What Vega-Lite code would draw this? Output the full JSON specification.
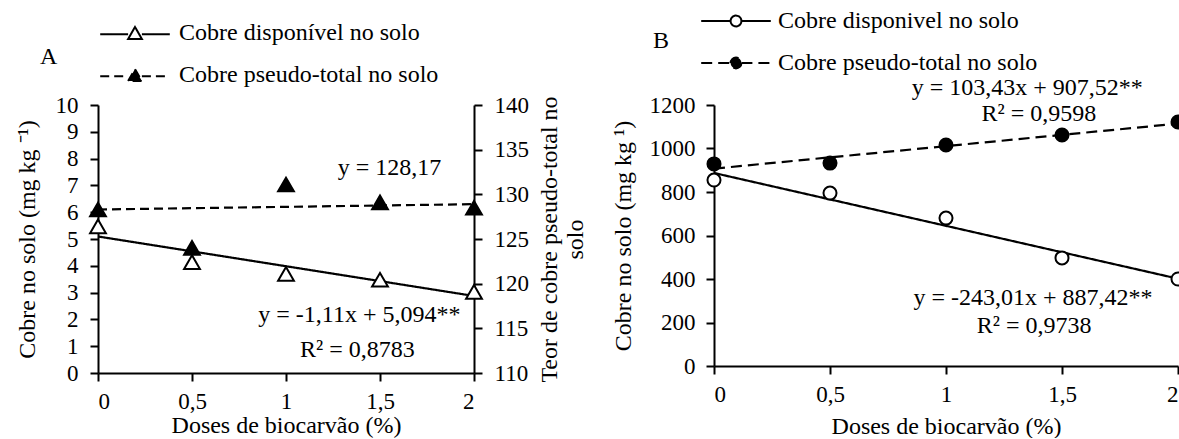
{
  "$schema": "https://vega.github.io/schema/vega-lite/v6.json",
  "padding": {"left": 14, "top": 9, "right": 0, "bottom": 0},
  "background": "white",
  "datasets": {
    "a_obs": [
      {"dose": 0, "serie": "Cobre disponível no solo", "cobre": 5.47},
      {"dose": 0.5, "serie": "Cobre disponível no solo", "cobre": 4.14},
      {"dose": 1, "serie": "Cobre disponível no solo", "cobre": 3.7},
      {"dose": 1.5, "serie": "Cobre disponível no solo", "cobre": 3.48},
      {"dose": 2, "serie": "Cobre disponível no solo", "cobre": 3.03},
      {"dose": 0, "serie": "Cobre pseudo-total no solo", "cobre": 128.3},
      {"dose": 0.5, "serie": "Cobre pseudo-total no solo", "cobre": 124.0},
      {"dose": 1, "serie": "Cobre pseudo-total no solo", "cobre": 131.1},
      {"dose": 1.5, "serie": "Cobre pseudo-total no solo", "cobre": 129.1},
      {"dose": 2, "serie": "Cobre pseudo-total no solo", "cobre": 128.5}
    ],
    "a_fit": [
      {"dose": 0, "serie": "Cobre disponível no solo", "cobre": 5.094},
      {"dose": 2, "serie": "Cobre disponível no solo", "cobre": 2.874},
      {"dose": 0, "serie": "Cobre pseudo-total no solo", "cobre": 128.3},
      {"dose": 2, "serie": "Cobre pseudo-total no solo", "cobre": 128.9}
    ],
    "a_txt": [
      {"dose": 1.55, "cobre": 7.65, "rotulo": "y = 128,17"},
      {"dose": 1.39, "cobre": 2.16, "rotulo": "y = -1,11x + 5,094**"},
      {"dose": 1.38, "cobre": 0.86, "rotulo": "R² = 0,8783"}
    ],
    "b_obs": [
      {"dose": 0, "serie": "Cobre disponivel no solo", "cobre": 855},
      {"dose": 0.5, "serie": "Cobre disponivel no solo", "cobre": 795},
      {"dose": 1, "serie": "Cobre disponivel no solo", "cobre": 680},
      {"dose": 1.5, "serie": "Cobre disponivel no solo", "cobre": 497},
      {"dose": 2, "serie": "Cobre disponivel no solo", "cobre": 400},
      {"dose": 0, "serie": "Cobre pseudo-total no solo", "cobre": 929},
      {"dose": 0.5, "serie": "Cobre pseudo-total no solo", "cobre": 933},
      {"dose": 1, "serie": "Cobre pseudo-total no solo", "cobre": 1016},
      {"dose": 1.5, "serie": "Cobre pseudo-total no solo", "cobre": 1062},
      {"dose": 2, "serie": "Cobre pseudo-total no solo", "cobre": 1122}
    ],
    "b_fit": [
      {"dose": 0, "serie": "Cobre disponivel no solo", "cobre": 887.42},
      {"dose": 2, "serie": "Cobre disponivel no solo", "cobre": 401.4},
      {"dose": 0, "serie": "Cobre pseudo-total no solo", "cobre": 907.52},
      {"dose": 2, "serie": "Cobre pseudo-total no solo", "cobre": 1114.38}
    ],
    "b_txt": [
      {"dose": 1.35, "cobre": 1278, "rotulo": "y = 103,43x + 907,52**"},
      {"dose": 1.4, "cobre": 1159, "rotulo": "R² = 0,9598"},
      {"dose": 1.375, "cobre": 313, "rotulo": "y = -243,01x + 887,42**"},
      {"dose": 1.38, "cobre": 184, "rotulo": "R² = 0,9738"}
    ]
  },
  "spacing": 240,
  "bounds": "flush",
  "resolve": {
    "scale": {"fill": "independent", "strokeDash": "independent", "x": "independent", "y": "independent"},
    "legend": {"fill": "independent", "strokeDash": "independent"}
  },
  "hconcat": [
    {
      "width": 376,
      "height": 268,
      "title": {"text": "A", "anchor": "start", "frame": "group", "fontSize": 24, "fontWeight": "normal", "font": "Liberation Serif", "color": "black", "dx": -58, "offset": -48},
      "resolve": {"scale": {"y": "independent"}},
      "layer": [
        {
          "encoding": {
            "x": {"field": "dose", "type": "quantitative", "scale": {"domain": [0, 2], "nice": false},
              "axis": {"values": [0, 0.5, 1, 1.5, 2], "labelExpr": "replace(toString(datum.value), '.', ',')", "title": "Doses de biocarvão (%)", "labelPadding": 9, "titlePadding": 0}},
            "y": {"field": "cobre", "type": "quantitative", "scale": {"domain": [0, 10], "nice": false},
              "axis": {"orient": "left", "values": [0,1,2,3,4,5,6,7,8,9,10], "title": "Cobre no solo (mg kg ⁻¹)", "labelPadding": 12, "titlePadding": 16}}
          },
          "layer": [
            {
              "data": {"name": "a_fit"},
              "transform": [{"filter": "datum.serie === 'Cobre disponível no solo'"}],
              "mark": {"type": "line", "color": "black", "strokeWidth": 2.2},
              "encoding": {
                "strokeDash": {"field": "serie", "type": "nominal",
                  "scale": {"domain": ["Cobre disponível no solo", "Cobre pseudo-total no solo"], "range": [[1, 0], [9, 5]]},
                  "legend": {"orient": "none", "legendX": 25, "legendY": -84, "title": null, "symbolType": "M-5.8,0.2L-1.15,0.2M1.15,0.2L5.8,0.2M-1.15,1L0,-1L1.15,1Z", "symbolSize": 144, "symbolStrokeWidth": 2, "symbolStrokeColor": "black", "labelOffset": 32, "labelFontSize": 24, "labelFont": "Liberation Serif", "labelColor": "black", "labelLimit": 500, "rowPadding": 18}}
              }
            },
            {
              "data": {"name": "a_obs"},
              "transform": [{"filter": "datum.serie === 'Cobre disponível no solo'"}],
              "mark": {"type": "point", "shape": "triangle-up", "size": 250, "filled": true, "stroke": "black", "strokeWidth": 2, "opacity": 1},
              "encoding": {
                "fill": {"field": "serie", "type": "nominal",
                  "scale": {"domain": ["Cobre disponível no solo", "Cobre pseudo-total no solo"], "range": ["white", "black"]},
                  "legend": {"orient": "none", "legendX": 25, "legendY": -84, "title": null, "symbolType": "M-5.8,0.2L-1.15,0.2M1.15,0.2L5.8,0.2M-1.15,1L0,-1L1.15,1Z", "symbolSize": 144, "symbolStrokeWidth": 2, "symbolStrokeColor": "black", "labelOffset": 32, "labelFontSize": 24, "labelFont": "Liberation Serif", "labelColor": "black", "labelLimit": 500, "rowPadding": 18}}
              }
            },
            {
              "data": {"name": "a_txt"},
              "mark": {"type": "text", "font": "Liberation Serif", "fontSize": 24, "color": "black", "align": "center", "baseline": "middle"},
              "encoding": {"text": {"field": "rotulo"}}
            }
          ]
        },
        {
          "encoding": {
            "x": {"field": "dose", "type": "quantitative", "scale": {"domain": [0, 2], "nice": false},
              "axis": {"values": [0, 0.5, 1, 1.5, 2], "labelExpr": "replace(toString(datum.value), '.', ',')", "title": "Doses de biocarvão (%)", "labelPadding": 9, "titlePadding": 0}},
            "y": {"field": "cobre", "type": "quantitative", "scale": {"domain": [110, 140], "nice": false, "zero": false},
              "axis": {"orient": "right", "values": [110,115,120,125,130,135,140], "title": ["Teor de cobre pseudo-total no", "solo"], "titleAngle": -90, "titleAlign": "center", "titleBaseline": "top", "labelPadding": 12, "titlePadding": -17}}
          },
          "layer": [
            {
              "data": {"name": "a_fit"},
              "transform": [{"filter": "datum.serie === 'Cobre pseudo-total no solo'"}],
              "mark": {"type": "line", "color": "black", "strokeWidth": 2.2},
              "encoding": {
                "strokeDash": {"field": "serie", "type": "nominal",
                  "scale": {"domain": ["Cobre disponível no solo", "Cobre pseudo-total no solo"], "range": [[1, 0], [9, 5]]},
                  "legend": {"orient": "none", "legendX": 25, "legendY": -84, "title": null, "symbolType": "M-5.8,0.2L-1.15,0.2M1.15,0.2L5.8,0.2M-1.15,1L0,-1L1.15,1Z", "symbolSize": 144, "symbolStrokeWidth": 2, "symbolStrokeColor": "black", "labelOffset": 32, "labelFontSize": 24, "labelFont": "Liberation Serif", "labelColor": "black", "labelLimit": 500, "rowPadding": 18}}
              }
            },
            {
              "data": {"name": "a_obs"},
              "transform": [{"filter": "datum.serie === 'Cobre pseudo-total no solo'"}],
              "mark": {"type": "point", "shape": "triangle-up", "size": 250, "filled": true, "stroke": "black", "strokeWidth": 2, "opacity": 1},
              "encoding": {
                "fill": {"field": "serie", "type": "nominal",
                  "scale": {"domain": ["Cobre disponível no solo", "Cobre pseudo-total no solo"], "range": ["white", "black"]},
                  "legend": {"orient": "none", "legendX": 25, "legendY": -84, "title": null, "symbolType": "M-5.8,0.2L-1.15,0.2M1.15,0.2L5.8,0.2M-1.15,1L0,-1L1.15,1Z", "symbolSize": 144, "symbolStrokeWidth": 2, "symbolStrokeColor": "black", "labelOffset": 32, "labelFontSize": 24, "labelFont": "Liberation Serif", "labelColor": "black", "labelLimit": 500, "rowPadding": 18}}
              }
            }
          ]
        }
      ]
    },
    {
      "width": 464,
      "height": 261,
      "title": {"text": "B", "anchor": "start", "frame": "group", "fontSize": 24, "fontWeight": "normal", "font": "Liberation Serif", "color": "black", "dx": -61, "offset": -44},
      "encoding": {
        "x": {"field": "dose", "type": "quantitative", "scale": {"domain": [0, 2], "nice": false},
          "axis": {"values": [0, 0.5, 1, 1.5, 2], "labelExpr": "replace(toString(datum.value), '.', ',')", "title": "Doses de biocarvão (%)", "labelPadding": 9, "titlePadding": 8}},
        "y": {"field": "cobre", "type": "quantitative", "scale": {"domain": [0, 1200], "nice": false},
          "axis": {"values": [0,200,400,600,800,1000,1200], "format": "d", "title": "Cobre no solo (mg kg ¹)", "labelPadding": 11, "titlePadding": 14}}
      },
      "layer": [
        {
          "data": {"name": "b_fit"},
          "mark": {"type": "line", "color": "black", "strokeWidth": 2.2},
          "encoding": {
            "strokeDash": {"field": "serie", "type": "nominal",
              "scale": {"domain": ["Cobre disponivel no solo", "Cobre pseudo-total no solo"], "range": [[1, 0], [11, 6]]},
              "legend": {"orient": "none", "legendX": 10, "legendY": -96, "title": null, "symbolType": "M-5.8,0L-0.9,0M0.9,0L5.8,0M-0.9,0A0.9,0.9 0 1,1 0.9,0A0.9,0.9 0 1,1 -0.9,0Z", "symbolSize": 144, "symbolStrokeWidth": 2, "symbolStrokeColor": "black", "labelOffset": 30, "labelFontSize": 24, "labelFont": "Liberation Serif", "labelColor": "black", "labelLimit": 500, "rowPadding": 18}}
          }
        },
        {
          "data": {"name": "b_obs"},
          "mark": {"type": "point", "shape": "circle", "size": 170, "filled": true, "stroke": "black", "strokeWidth": 2, "opacity": 1},
          "encoding": {
            "fill": {"field": "serie", "type": "nominal",
              "scale": {"domain": ["Cobre disponivel no solo", "Cobre pseudo-total no solo"], "range": ["white", "black"]},
              "legend": {"orient": "none", "legendX": 10, "legendY": -96, "title": null, "symbolType": "M-5.8,0L-0.9,0M0.9,0L5.8,0M-0.9,0A0.9,0.9 0 1,1 0.9,0A0.9,0.9 0 1,1 -0.9,0Z", "symbolSize": 144, "symbolStrokeWidth": 2, "symbolStrokeColor": "black", "labelOffset": 30, "labelFontSize": 24, "labelFont": "Liberation Serif", "labelColor": "black", "labelLimit": 500, "rowPadding": 18}}
          }
        },
        {
          "data": {"name": "b_txt"},
          "mark": {"type": "text", "font": "Liberation Serif", "fontSize": 24, "color": "black", "align": "center", "baseline": "middle"},
          "encoding": {"text": {"field": "rotulo"}}
        }
      ]
    }
  ],
  "config": {
    "font": "Liberation Serif",
    "view": {"stroke": null},
    "legend": {"labelFont": "Liberation Serif", "labelFontSize": 24, "labelLimit": 500},
    "axis": {
      "grid": false,
      "domainColor": "black", "domainWidth": 2,
      "tickColor": "black", "tickWidth": 2, "tickSize": 8,
      "labelColor": "black", "labelFont": "Liberation Serif", "labelFontSize": 23, "labelPadding": 8,
      "titleColor": "black", "titleFont": "Liberation Serif", "titleFontSize": 24, "titleFontWeight": "normal", "titlePadding": 6
    }
  }
}
